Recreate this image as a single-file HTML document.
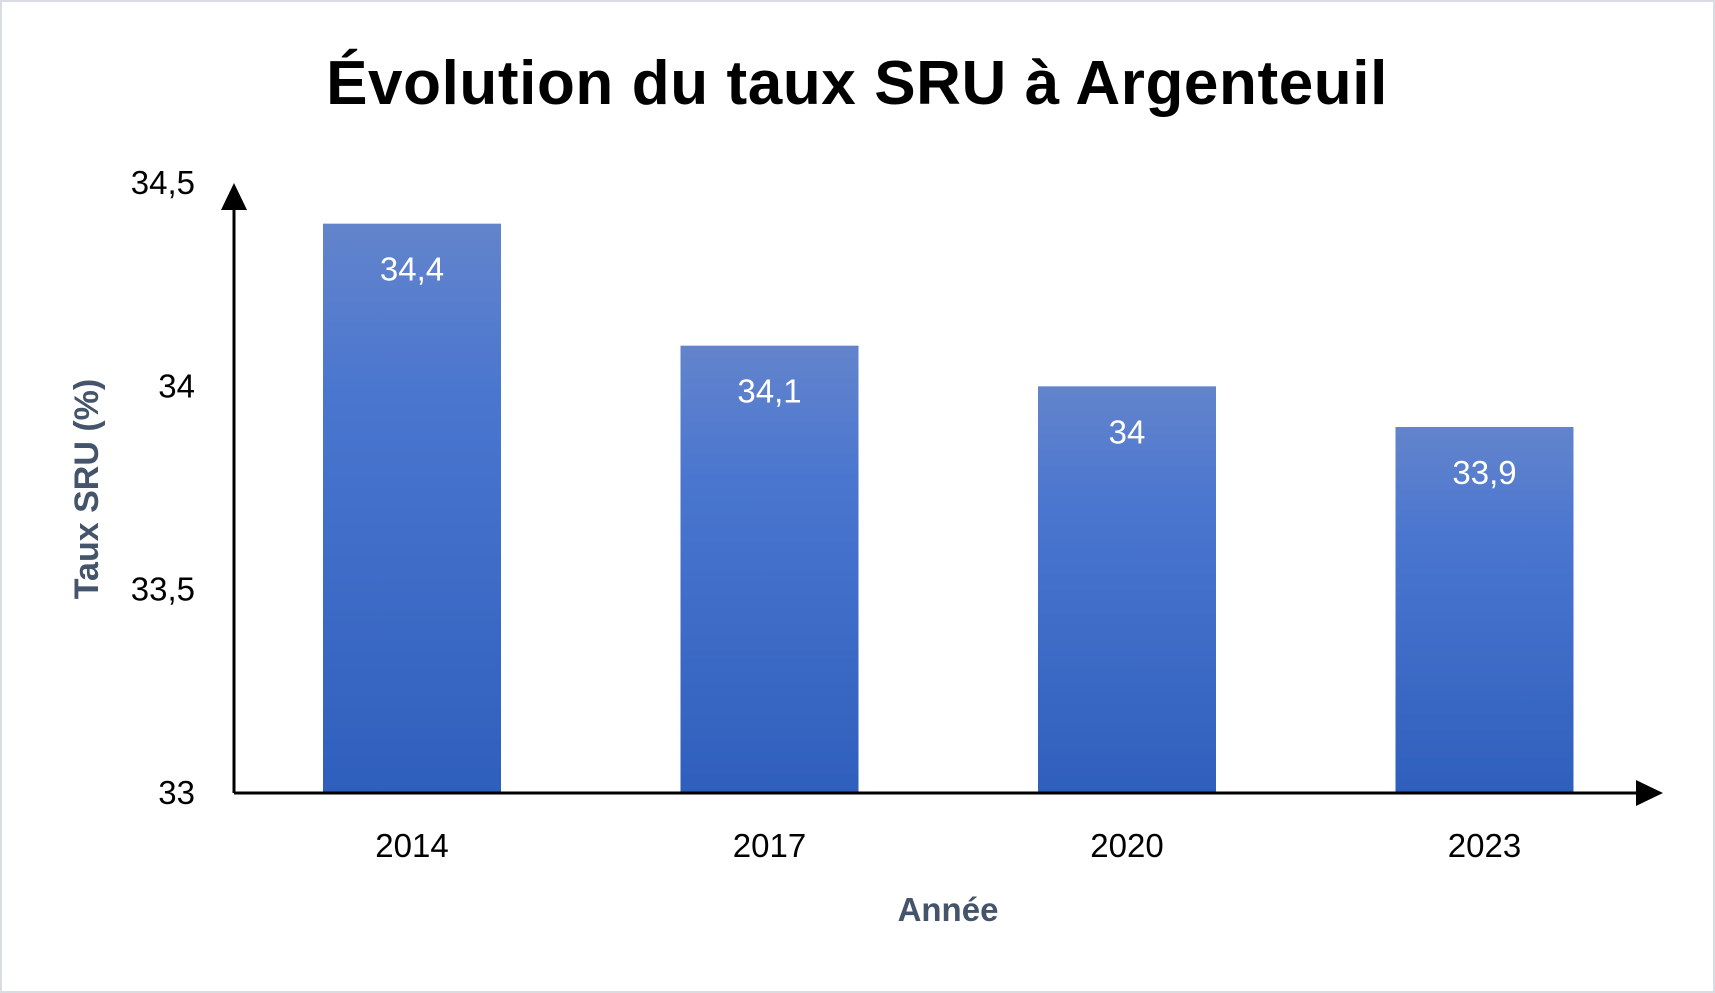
<!DOCTYPE html>
<html><head><meta charset="utf-8"><style>
html,body{margin:0;padding:0;background:#fff;}
svg{display:block;font-family:"Liberation Sans","DejaVu Sans",sans-serif;}
</style></head><body>
<svg id="chart" width="1715" height="993" viewBox="0 0 1715 993">
<defs><linearGradient id="g" x1="0" y1="0" x2="0" y2="1"><stop offset="0" stop-color="#6384cc"/><stop offset="0.3" stop-color="#4a76cf"/><stop offset="1" stop-color="#2f5fbd"/></linearGradient></defs>
<rect x="1" y="1" width="1713" height="991" fill="#fff" stroke="#d9dde3" stroke-width="2"/>
<text x="857" y="104" text-anchor="middle" font-size="62" letter-spacing="0.6" font-weight="bold" fill="#000">Évolution du taux SRU à Argenteuil</text>
<g id="bars"></g>
<g id="axes"></g>
<text x="0" y="0" transform="translate(98,489) rotate(-90)" text-anchor="middle" font-size="34" font-weight="bold" fill="#44546a">Taux SRU (%)</text>
<text x="948" y="921" text-anchor="middle" font-size="33" font-weight="bold" fill="#44546a">Année</text>
</svg>
<script>
const categories = ["2014","2017","2020","2023"];
const values = [34.4, 34.1, 34.0, 33.9];
const valueLabels = ["34,4","34,1","34","33,9"];
const yTicks = [33, 33.5, 34, 34.5];
const yTickLabels = ["33","33,5","34","34,5"];
const NS="http://www.w3.org/2000/svg";
const yMin=33, yMax=34.5, y0=793, yTop=183;
const y=v=>y0-(v-yMin)/(yMax-yMin)*(y0-yTop);
const xStart=234, step=357.5, first=412;
const x=i=>first+i*step;
const bw=178;
function mk(t,a,p){const e=document.createElementNS(NS,t);for(const k in a)e.setAttribute(k,a[k]);p.appendChild(e);return e;}
const bars=document.getElementById('bars'), axes=document.getElementById('axes');
values.forEach((v,i)=>{
  const r=mk('rect',{x:x(i)-bw/2,y:y(v),width:bw,height:y0-y(v),fill:'url(#g)'},bars);
  
  
  const t=mk('text',{x:x(i),y:y(v)+57,'text-anchor':'middle','font-size':33,fill:'#fff'},bars);
  t.textContent=valueLabels[i];
  
  
  const c=mk('text',{x:x(i),y:857,'text-anchor':'middle','font-size':33,fill:'#000'},axes);
  c.textContent=categories[i];
  
  
});
yTicks.forEach((v,i)=>{
  const t=mk('text',{x:195,y:y(v)+11,'text-anchor':'end','font-size':33,fill:'#000'},axes);
  t.textContent=yTickLabels[i];
  
  
});
const ya=mk('line',{x1:xStart,y1:y0,x2:xStart,y2:205,stroke:'#000','stroke-width':3},axes);


const yh=mk('polygon',{points:`${xStart-13},210 ${xStart+13},210 ${xStart},183`,fill:'#000'},axes);


const xa=mk('line',{x1:xStart,y1:y0,x2:1640,y2:y0,stroke:'#000','stroke-width':3},axes);


const xh=mk('polygon',{points:`1636,${y0-13} 1636,${y0+13} 1663,${y0}`,fill:'#000'},axes);


</script>
</body></html>
